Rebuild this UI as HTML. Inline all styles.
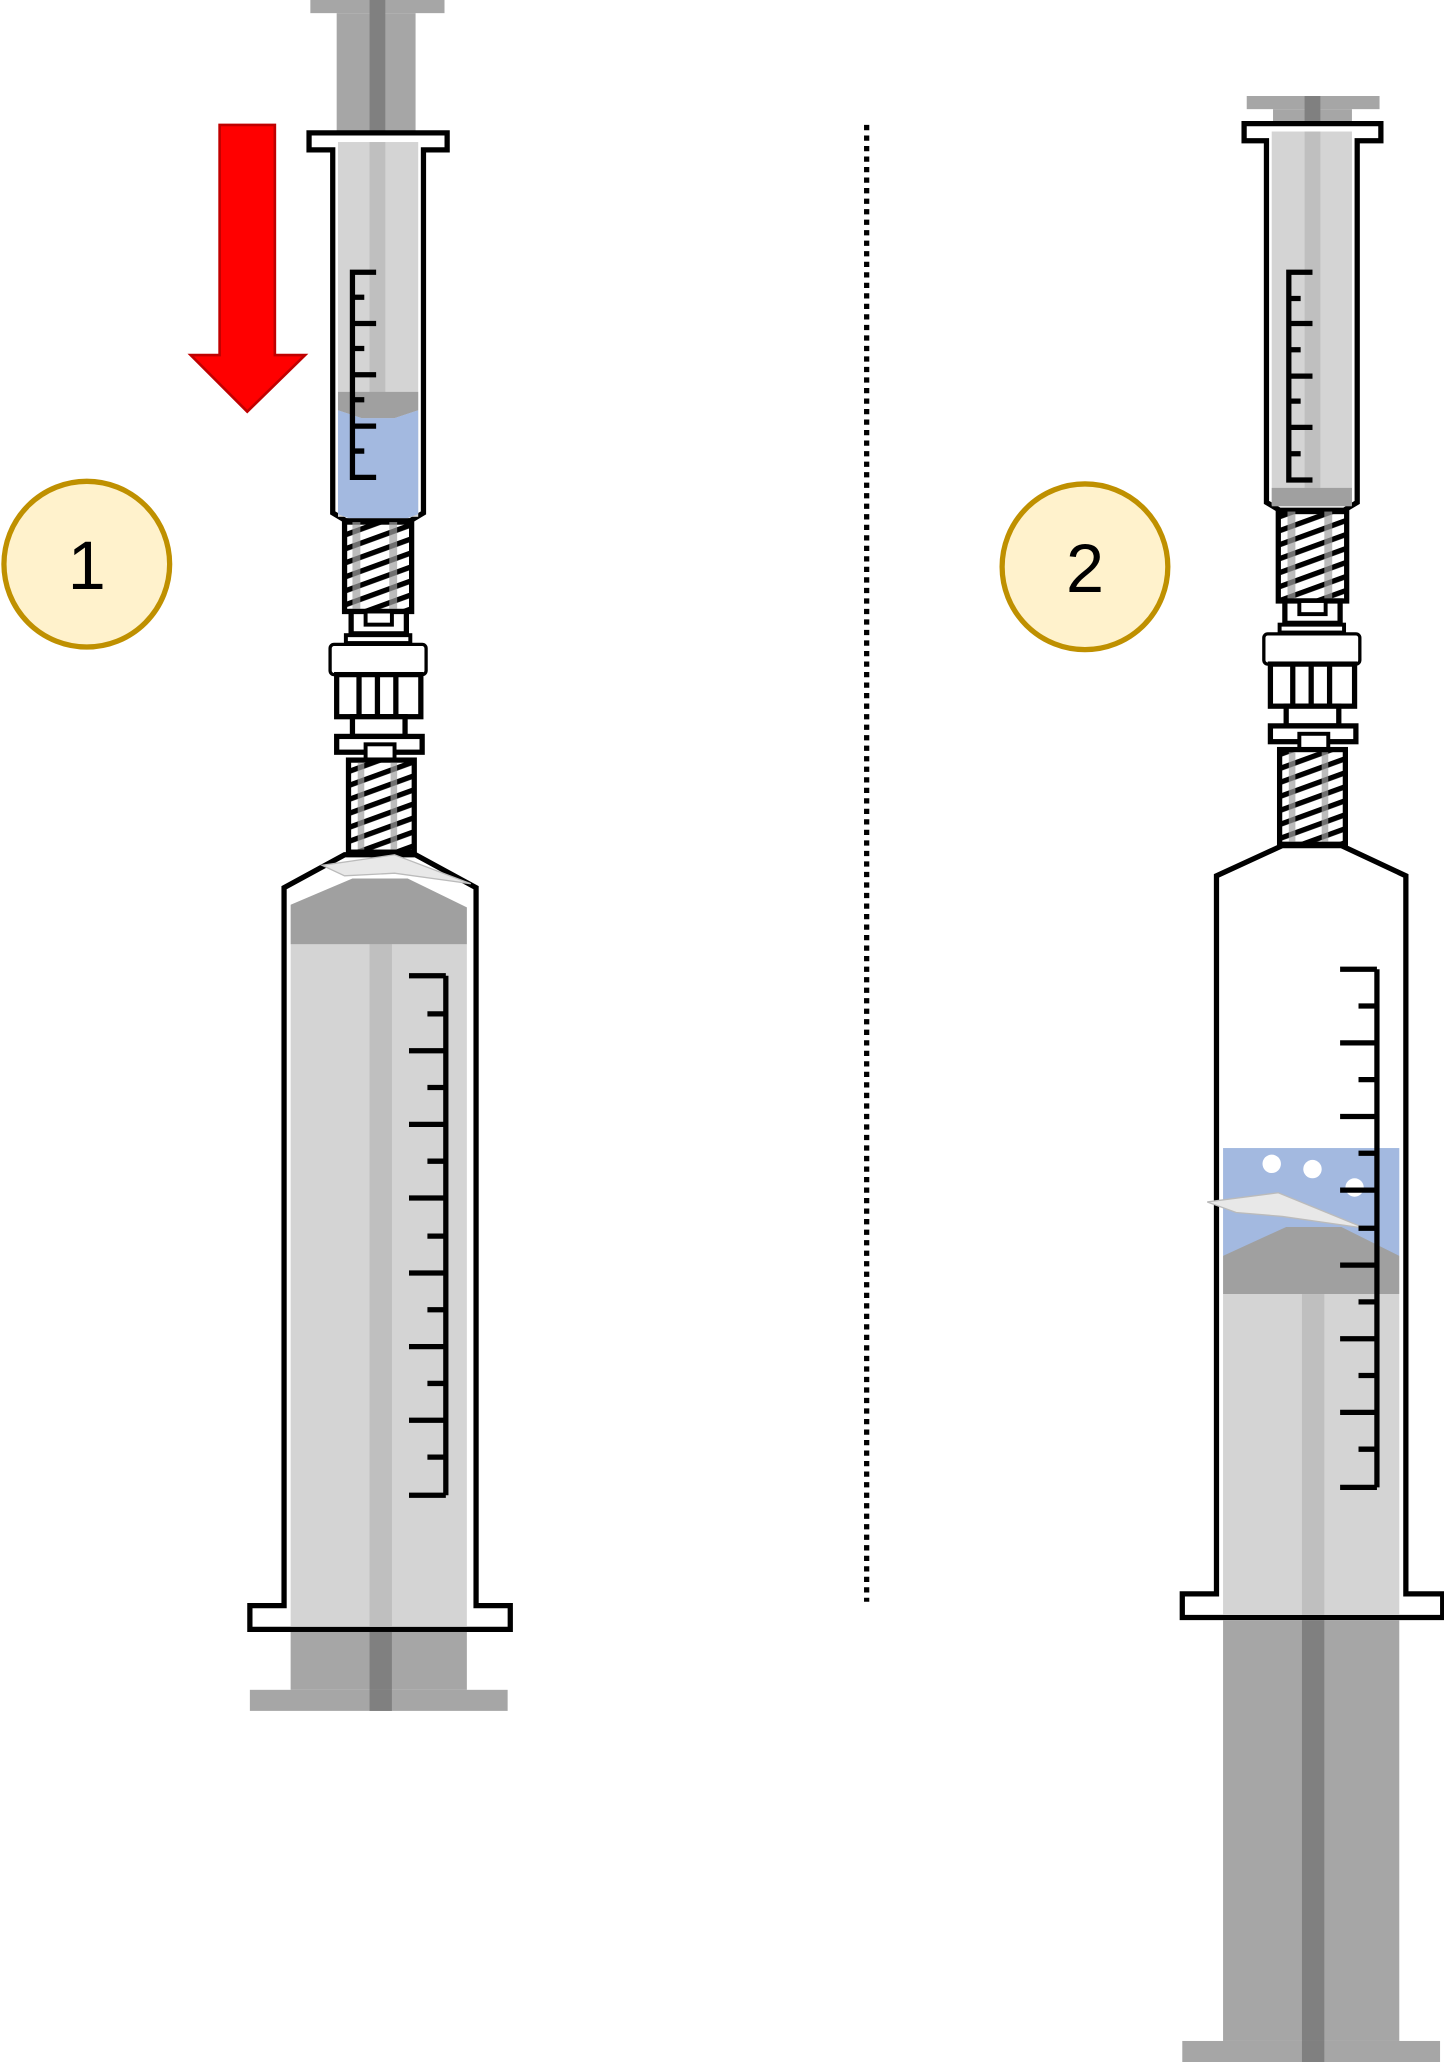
<!DOCTYPE html>
<html><head><meta charset="utf-8"><style>
html,body{margin:0;padding:0;background:#fff;width:1444px;height:2062px;overflow:hidden}
svg{display:block}
</style></head><body>
<svg width="1444" height="2062" viewBox="0 0 1098 1568" preserveAspectRatio="none" xmlns="http://www.w3.org/2000/svg">
<defs>
<pattern id="hatch" width="10" height="10" patternUnits="userSpaceOnUse" patternTransform="rotate(-20)">
<rect width="10" height="10" fill="#fff"/><rect y="0" width="10" height="4" fill="#000"/></pattern>
</defs>
<rect width="1098" height="1568" fill="#fff"/>

<!-- ===== Syringe set 1 ===== -->
<rect x="236" y="0" width="102" height="10" fill="#a6a6a6"/>
<rect x="256" y="10" width="60" height="92" fill="#a6a6a6"/>
<rect x="281" y="0" width="12" height="102" fill="#808080"/>
<!-- small barrel -->
<path d="M235,101 H340 V114 H322 V390 L312,396 H263 L253,390 V114 H235 Z" fill="#fff" stroke="#000" stroke-width="4"/>
<rect x="257" y="108" width="61" height="285" fill="#d4d4d4"/>
<rect x="281" y="108" width="12" height="200" fill="#bfbfbf"/>
<path d="M257,298 H318 V312 L300,318 H275 L257,312 Z" fill="#a0a0a0"/>
<path d="M257,312 L275,318 H300 L318,312 V391 L310,394 H265 L257,391 Z" fill="#a3b9e0"/>
<path d="M286,207 H268 V363 H286 M268,226 H277 M268,246 H286 M268,265 H277 M268,285 H286 M268,304 H277 M268,324 H286 M268,343 H277" fill="none" stroke="#000" stroke-width="4"/>
<!-- threaded luer -->
<rect x="262" y="397" width="51" height="68" fill="url(#hatch)" stroke="#000" stroke-width="4"/>
<rect x="268" y="397" width="6" height="68" fill="#a0a0a0" opacity="0.7"/>
<rect x="296" y="397" width="6" height="68" fill="#a0a0a0" opacity="0.7"/>
<rect x="267" y="465" width="42" height="17" fill="#fff" stroke="#000" stroke-width="4"/>
<rect x="278" y="465" width="20" height="10" fill="#fff" stroke="#000" stroke-width="3"/>
<rect x="263" y="483" width="49" height="6" fill="#fff" stroke="#000" stroke-width="3"/>
<!-- connector -->
<rect x="251" y="490" width="73" height="23" rx="3" fill="#fff" stroke="#000" stroke-width="2.5"/>
<rect x="256" y="513" width="64" height="32" fill="#fff" stroke="#000" stroke-width="4"/>
<path d="M273,513 V545 M287,513 V545 M301,513 V545" stroke="#000" stroke-width="4"/>
<rect x="268" y="545" width="40" height="15" fill="#fff" stroke="#000" stroke-width="4"/>
<rect x="256" y="560" width="65" height="12" fill="#fff" stroke="#000" stroke-width="4"/>
<rect x="278" y="566" width="22" height="14" fill="#fff" stroke="#000" stroke-width="3"/>
<rect x="265" y="578" width="50" height="70" fill="url(#hatch)" stroke="#000" stroke-width="4"/>
<rect x="272" y="580" width="5" height="66" fill="#a0a0a0" opacity="0.7"/>
<rect x="297" y="580" width="5" height="66" fill="#a0a0a0" opacity="0.7"/>
<!-- big barrel 1 -->
<path d="M262,650 H316 L362,675 V1221 H388 V1239 H190 V1221 H216 V675 Z" fill="#fff" stroke="#000" stroke-width="4"/>
<rect x="221" y="718" width="134" height="519" fill="#d4d4d4"/>
<rect x="281" y="718" width="17" height="519" fill="#bfbfbf"/>
<path d="M221,688 L268,668 H310 L355,690 V718 H221 Z" fill="#a0a0a0"/>
<path d="M245,658 L300,650 L358,672 L300,664 L262,666 Z" fill="#e8e8e8" stroke="#bbb" stroke-width="1"/>
<path d="M339,742 V1137 M311,742 H339 M325,771 H339 M311,799 H339 M325,827 H339 M311,855 H339 M325,883 H339 M311,911 H339 M325,940 H339 M311,968 H339 M325,996 H339 M311,1024 H339 M325,1052 H339 M311,1080 H339 M325,1108 H339 M311,1137 H339" fill="none" stroke="#000" stroke-width="4"/>
<rect x="221" y="1241" width="134" height="44" fill="#a6a6a6"/>
<rect x="281" y="1241" width="17" height="60" fill="#808080"/>
<rect x="190" y="1285" width="196" height="16" fill="#a6a6a6"/>
<rect x="281" y="1285" width="17" height="16" fill="#808080"/>

<!-- red arrow -->
<path d="M167,95 H209 V270 H232 L188,313 L145,270 H167 Z" fill="#ff0000" stroke="#c00000" stroke-width="2"/>

<!-- circles -->
<circle cx="66" cy="429" r="63" fill="#fff2cc" stroke="#bf9000" stroke-width="4"/>
<text x="66" y="448" font-family="Liberation Sans, sans-serif" font-size="52" text-anchor="middle" fill="#000">1</text>
<circle cx="825" cy="431" r="63" fill="#fff2cc" stroke="#bf9000" stroke-width="4"/>
<text x="825" y="450" font-family="Liberation Sans, sans-serif" font-size="52" text-anchor="middle" fill="#000">2</text>

<!-- dotted divider -->
<line x1="659" y1="95" x2="659" y2="1218" stroke="#000" stroke-width="4" stroke-dasharray="4 4"/>

<!-- ===== Syringe set 2 ===== -->
<rect x="948" y="73" width="101" height="10" fill="#a6a6a6"/>
<rect x="968" y="83" width="60" height="12" fill="#a6a6a6"/>
<rect x="992" y="73" width="12" height="22" fill="#808080"/>
<path d="M946,94 H1050 V107 H1032 V382 L1022,388 H973 L963,382 V107 H946 Z" fill="#fff" stroke="#000" stroke-width="4"/>
<rect x="967" y="100" width="61" height="284" fill="#d4d4d4"/>
<rect x="992" y="100" width="12" height="271" fill="#bfbfbf"/>
<rect x="967" y="371" width="61" height="14" fill="#a0a0a0"/>
<path d="M998,207 H980 V365 H998 M980,227 H989 M980,246 H998 M980,266 H989 M980,286 H998 M980,305 H989 M980,325 H998 M980,345 H989" fill="none" stroke="#000" stroke-width="4"/>
<rect x="972" y="389" width="52" height="68" fill="url(#hatch)" stroke="#000" stroke-width="4"/>
<rect x="979" y="389" width="6" height="68" fill="#a0a0a0" opacity="0.7"/>
<rect x="1007" y="389" width="6" height="68" fill="#a0a0a0" opacity="0.7"/>
<rect x="977" y="457" width="42" height="17" fill="#fff" stroke="#000" stroke-width="4"/>
<rect x="988" y="457" width="20" height="10" fill="#fff" stroke="#000" stroke-width="3"/>
<rect x="973" y="475" width="49" height="6" fill="#fff" stroke="#000" stroke-width="3"/>
<rect x="961" y="482" width="73" height="23" rx="3" fill="#fff" stroke="#000" stroke-width="2.5"/>
<rect x="966" y="505" width="64" height="32" fill="#fff" stroke="#000" stroke-width="4"/>
<path d="M983,505 V537 M997,505 V537 M1011,505 V537" stroke="#000" stroke-width="4"/>
<rect x="978" y="537" width="40" height="15" fill="#fff" stroke="#000" stroke-width="4"/>
<rect x="966" y="552" width="65" height="12" fill="#fff" stroke="#000" stroke-width="4"/>
<rect x="988" y="558" width="22" height="14" fill="#fff" stroke="#000" stroke-width="3"/>
<rect x="973" y="570" width="50" height="72" fill="url(#hatch)" stroke="#000" stroke-width="4"/>
<rect x="980" y="572" width="5" height="68" fill="#a0a0a0" opacity="0.7"/>
<rect x="1005" y="572" width="5" height="68" fill="#a0a0a0" opacity="0.7"/>
<!-- big barrel 2 -->
<path d="M975,643 H1020 L1069,666 V1212 H1097 V1230 H899 V1212 H925 V666 Z" fill="#fff" stroke="#000" stroke-width="4"/>
<rect x="930" y="873" width="134" height="82" fill="#a3b9e0"/>
<path d="M930,955 L978,933 H1020 L1064,955 V984 H930 Z" fill="#a0a0a0"/>
<rect x="930" y="984" width="134" height="244" fill="#d4d4d4"/>
<rect x="990" y="984" width="17" height="244" fill="#bfbfbf"/>
<path d="M918,914 L972,907 L1038,934 L975,925 L940,922 Z" fill="#e8e8e8" stroke="#bbb" stroke-width="1"/>
<circle cx="967" cy="885" r="7" fill="#fff"/>
<circle cx="998" cy="889" r="7" fill="#fff"/>
<circle cx="1030" cy="903" r="7" fill="#fff"/>
<path d="M1047,737 V1131 M1019,737 H1047 M1033,765 H1047 M1019,793 H1047 M1033,821 H1047 M1019,849 H1047 M1033,877 H1047 M1019,905 H1047 M1033,934 H1047 M1019,962 H1047 M1033,990 H1047 M1019,1018 H1047 M1033,1046 H1047 M1019,1074 H1047 M1033,1102 H1047 M1019,1131 H1047" fill="none" stroke="#000" stroke-width="4"/>
<rect x="930" y="1232" width="134" height="320" fill="#a6a6a6"/>
<rect x="990" y="1232" width="17" height="336" fill="#808080"/>
<rect x="899" y="1552" width="196" height="16" fill="#a6a6a6"/>
<rect x="990" y="1552" width="17" height="16" fill="#808080"/>
</svg>
</body></html>
